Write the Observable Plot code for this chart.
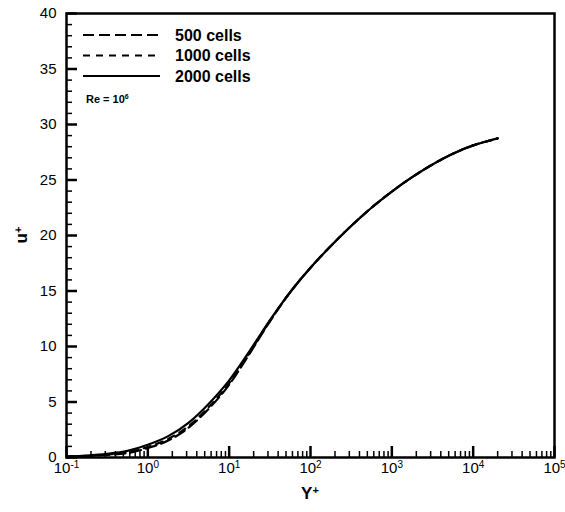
<!DOCTYPE html>
<html><head><meta charset="utf-8">
<script src="https://cdn.jsdelivr.net/npm/d3@7"></script>
<script src="https://cdn.jsdelivr.net/npm/@observablehq/plot@0.6"></script>
<style>html,body{margin:0;padding:0;background:#fff}svg{display:block}</style>
</head><body><div id="chart"></div>
<script>
// ---- data ----
const seriesNames = ["500 cells", "1000 cells", "2000 cells"];
const yPlus = [0.1, 0.178, 0.316, 0.562, 1, 1.78, 3.16, 5.62, 10, 17.8, 31.6, 56.2, 100, 178, 316, 562, 1000, 1778, 3162, 5623, 10000, 14125, 20000];
const uPlus2000 = [0.1, 0.18, 0.33, 0.6, 1.15, 1.925, 3.125, 4.85, 6.95, 9.59, 12.35, 14.89, 17.1, 19.06, 20.86, 22.5, 23.96, 25.26, 26.4, 27.36, 28.12, 28.45, 28.75];
const uPlus1000 = [0.09, 0.15, 0.27, 0.48, 0.95, 1.675, 2.825, 4.55, 6.7, 9.44, 12.3, 14.89, 17.1, 19.06, 20.86, 22.5, 23.96, 25.26, 26.4, 27.36, 28.12, 28.45, 28.75];
const uPlus500 = [0.08, 0.13, 0.23, 0.4, 0.85, 1.525, 2.675, 4.4, 6.55, 9.34, 12.25, 14.89, 17.1, 19.06, 20.86, 22.5, 23.96, 25.26, 26.4, 27.36, 28.12, 28.45, 28.75];
const xMajorTicks = [0.1, 1, 10, 100, 1000, 10000, 100000];
const yMajorTicks = [0, 5, 10, 15, 20, 25, 30, 35, 40];
const reLabel = "Re = 10";
const reExp = "6";

// ---- build tables ----
const toRows = (xs, ys) => xs.map((x, i) => ({yPlus: x, uPlus: ys[i]}));
const rows500 = toRows(yPlus, uPlus500);
const rows1000 = toRows(yPlus, uPlus1000);
const rows2000 = toRows(yPlus, uPlus2000);
const xMinorTicks = [];
for (const d of xMajorTicks.slice(0, -1)) for (let k = 2; k <= 9; k++) xMinorTicks.push(d * k);
const yMinorTicks = d3.range(0, 41, 1).filter(v => v % 5 !== 0);

const W = 565, H = 512, mL = 66, mR = 11, mT = 13, mB = 55;
const innerW = W - mL - mR, innerH = H - mT - mB;
const FONT = '"Liberation Sans", Arial, Helvetica, sans-serif';
const dash500 = "11,5", dash1000 = "7,6";

const svg = Plot.plot({
  width: W, height: H,
  marginLeft: mL, marginRight: mR, marginTop: mT, marginBottom: mB,
  style: {fontFamily: FONT, fontSize: "15px", color: "#000", background: "#fff", overflow: "visible"},
  x: {type: "log", domain: [0.1, 1e5]},
  y: {domain: [0, 40]},
  marks: [
    Plot.ruleX(xMinorTicks, {insetTop: innerH - 6, stroke: "#000", strokeWidth: 1.5}),
    Plot.ruleX(xMajorTicks, {insetTop: innerH - 11, stroke: "#000", strokeWidth: 2.5}),
    Plot.ruleY(yMinorTicks, {insetRight: innerW - 6, stroke: "#000", strokeWidth: 1.5}),
    Plot.ruleY(yMajorTicks, {insetRight: innerW - 11, stroke: "#000", strokeWidth: 2.5}),
    Plot.axisX({ticks: xMajorTicks, tickSize: 0, tickPadding: 5, label: null, fontSize: 15,
      tickFormat: d => String(Math.round(Math.log10(d)))}),
    Plot.axisY({ticks: yMajorTicks, tickSize: 0, tickPadding: 10, label: null, fontSize: 15}),
    Plot.line(rows2000, {x: "yPlus", y: "uPlus", stroke: "#000", strokeWidth: 2.2, curve: "monotone-x"}),
    Plot.line(rows1000, {x: "yPlus", y: "uPlus", stroke: "#000", strokeWidth: 2.2, strokeDasharray: dash1000, curve: "monotone-x"}),
    Plot.line(rows500, {x: "yPlus", y: "uPlus", stroke: "#000", strokeWidth: 2.2, strokeDasharray: dash500, curve: "monotone-x"}),
    Plot.frame({stroke: "#000", strokeWidth: 2.5})
  ]
});

const s = d3.select(svg);
// x tick labels as 10^n with superscript
s.selectAll('g[aria-label="x-axis tick label"] text').each(function() {
  const exp = this.textContent;
  const t = d3.select(this);
  t.text(null);
  t.append("tspan").text("10");
  t.append("tspan").attr("dy", "-0.5em").attr("font-size", "10px").text(exp);
});

// axis titles
const yt = s.append("text")
  .attr("transform", `translate(27,${mT + innerH / 2}) rotate(-90)`)
  .attr("text-anchor", "middle").attr("font-family", FONT).attr("font-weight", "bold").attr("font-size", "17px");
yt.append("tspan").text("u");
yt.append("tspan").attr("dy", "-0.5em").attr("font-size", "11px").text("+");

const xt = s.append("text")
  .attr("x", mL + innerW / 2).attr("y", H - 13)
  .attr("text-anchor", "middle").attr("font-family", FONT).attr("font-weight", "bold").attr("font-size", "17px");
xt.append("tspan").text("Y");
xt.append("tspan").attr("dy", "-0.5em").attr("font-size", "11px").text("+");

// legend
const dashes = [dash500, dash1000, null];
seriesNames.forEach((name, i) => {
  const y = 35 + i * 20.5;
  s.append("line").attr("x1", 83).attr("x2", 160).attr("y1", y).attr("y2", y)
    .attr("stroke", "#000").attr("stroke-width", 2.2)
    .attr("stroke-dasharray", dashes[i]);
  s.append("text").attr("x", 175).attr("y", y).attr("dy", "0.36em").attr("text-anchor", "start")
    .attr("font-family", FONT).attr("font-weight", "bold").attr("font-size", "16px").text(name);
});
const re = s.append("text").attr("x", 86).attr("y", 103).attr("text-anchor", "start")
  .attr("font-family", FONT).attr("font-weight", "bold").attr("font-size", "11px");
re.append("tspan").text(reLabel);
re.append("tspan").attr("dy", "-0.55em").attr("font-size", "7px").text(reExp);

document.getElementById("chart").appendChild(svg);
</script>
</body></html>
